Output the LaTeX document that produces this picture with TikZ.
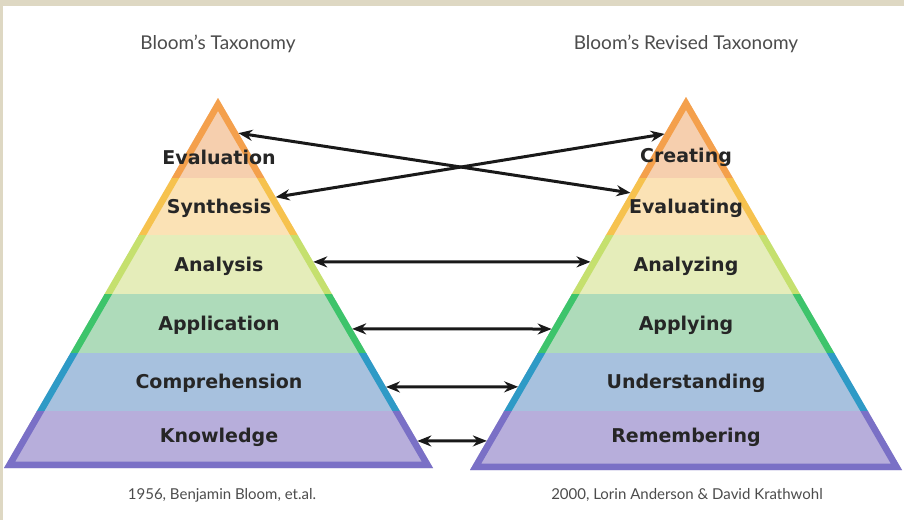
\documentclass[tikz,border=0pt]{standalone}
\usepackage{fontspec}
\usepackage{tikz}
\usetikzlibrary{positioning,calc,arrows.meta}
\newfontfamily\levelfont{DejaVu Sans}
\newfontfamily\capfont{Lato}

\definecolor{frame}{HTML}{DED8C3}
\definecolor{tierfill1}{HTML}{F6CFAE}
\definecolor{tierline1}{HTML}{F4A04C}
\definecolor{tierfill2}{HTML}{FBE2B5}
\definecolor{tierline2}{HTML}{F6C24E}
\definecolor{tierfill3}{HTML}{E5EDBA}
\definecolor{tierline3}{HTML}{C5E06E}
\definecolor{tierfill4}{HTML}{AEDBBA}
\definecolor{tierline4}{HTML}{3DC46B}
\definecolor{tierfill5}{HTML}{A7C1DE}
\definecolor{tierline5}{HTML}{2E9AC6}
\definecolor{tierfill6}{HTML}{B7AEDB}
\definecolor{tierline6}{HTML}{7A70C6}

\tikzset{
  level/.style={font=\levelfont\bfseries\fontsize{19}{23}\selectfont, text=black!85},
  heading/.style={font=\capfont\fontsize{19}{23}\selectfont, text=black!70},
  credit/.style={font=\capfont\fontsize{15}{18}\selectfont, text=black!70},
  link/.style={line width=3pt, black!90, {Stealth[length=14pt,width=11pt]}-{Stealth[length=14pt,width=11pt]}}
}

\begin{document}
\begin{tikzpicture}[x=1pt,y=-1pt]
            \def\lefttri{(218,98) -- (4,468) -- (433,468) -- cycle}
            \def\righttri{(686,97) -- (470,470) -- (902,470) -- cycle}
            \useasboundingbox (0,0) rectangle (904,520);
            \fill[frame] (0,0) rectangle (904,520);
            \fill[white] (3,6) rectangle (904,520);
            % the two pyramids, band by band
            \foreach \tri in {\lefttri,\righttri} {
              \begin{scope}
                \clip \tri;
                \foreach \ya/\yb/\c in {90/178/1,178/235/2,235/294/3,294/353/4,353/411/5,411/480/6} {
                  \fill[tierfill\c] (0,\ya) rectangle (904,\yb);
                  \begin{scope}
                    \clip (0,\ya) rectangle (904,\yb);
                    \draw[tierline\c, line width=13pt, line join=miter] \tri;
                  \end{scope}
                }
              \end{scope}
            }
            \coordinate (lt) at (218,98);
            \coordinate (lbr) at (433,468);
            \coordinate (rt) at (686,97);
            \coordinate (rbl) at (470,470);
            \node[heading] (oldhead) at (218,44) {Bloom’s Taxonomy};
            \node[heading] (newhead) at (686,44) {Bloom’s Revised Taxonomy};
            \node[level] (evaluation) at (219,157) {Evaluation};
            \node[level] (synthesis) at (219,208) {Synthesis};
            \node[level] (analysis) at (219,266) {Analysis};
            \node[level] (application) at (219,325) {Application};
            \node[level] (comprehension) at (219,383) {Comprehension};
            \node[level] (knowledge) at (219,437) {Knowledge};
            \node[level] (creating) at (686,157) {Creating};
            \node[level] (evaluating) at (686,208) {Evaluating};
            \node[level] (analyzing) at (686,266) {Analyzing};
            \node[level] (applying) at (686,325) {Applying};
            \node[level] (understanding) at (686,383) {Understanding};
            \node[level] (remembering) at (686,437) {Remembering};
            \node[credit] (oldcredit) at (222,495) {1956, Benjamin Bloom, et.al.};
            \node[credit] (newcredit) at (687,495) {2000, Lorin Anderson \& David Krathwohl};
            % points on the facing edges
            \foreach \n/\f in {1/0.095,2/0.268,3/0.443,4/0.624,5/0.781,6/0.927}
              \coordinate (L\n) at ($(lt)!\f!(lbr)$);
            \foreach \n/\f in {1/0.099,2/0.257,3/0.442,4/0.622,5/0.777,6/0.922}
              \coordinate (R\n) at ($(rt)!\f!(rbl)$);
            \draw[link] (L1) -- (R2);
            \draw[link] (L2) -- (R1);
            \foreach \n in {3,4,5,6}
              \draw[link] (L\n) -- (R\n);
        \end{tikzpicture}
\end{document}
